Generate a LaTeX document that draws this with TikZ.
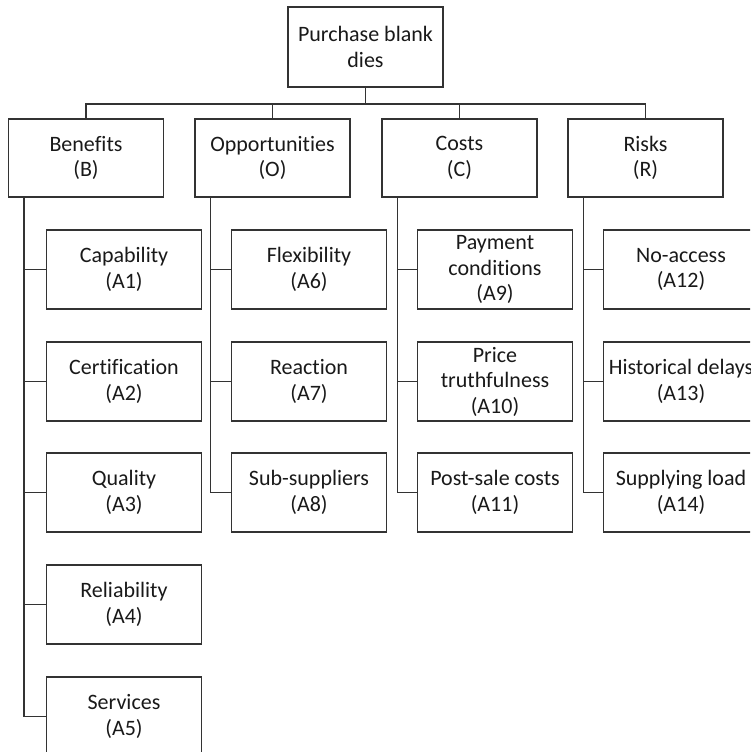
\documentclass[tikz,border=0pt]{standalone}
\usepackage{fontspec}
\setmainfont{Carlito}[Ligatures=NoCommon]
\usetikzlibrary{calc}
\begin{document}
\begin{tikzpicture}[x=1pt,y=-1pt,
  box/.style={draw=black!80, line width=1.5pt, minimum width=155pt, minimum height=79pt,
              align=center, inner sep=2pt, text=black!90,
              font=\fontsize{22}{25.5}\selectfont},
  link/.style={draw=black!80, line width=1.5pt}]
\useasboundingbox (0,0) rectangle (750,752);
\clip (0,0) rectangle (750,752);

% goal
\node[box, minimum height=80pt] (goal) at (365.5,47) {Purchase blank\\dies};

% criteria
\node[box, minimum height=78pt] (B) at (86,158)    {Benefits\\(B)};
\node[box, minimum height=78pt] (O) at (272.5,158) {Opportunities\\(O)};
\node[box, minimum height=78pt] (C) at (459.5,158) {Costs\\(C)};
\node[box, minimum height=78pt] (R) at (645.5,158) {Risks\\(R)};

% sub-criteria
\node[box] (A1) at (124,269.5) {Capability\\(A1)};
\node[box] (A2) at (124,381.5) {Certification\\(A2)};
\node[box] (A3) at (124,492.5) {Quality\\(A3)};
\node[box] (A4) at (124,604.5) {Reliability\\(A4)};
\node[box] (A5) at (124,716.5) {Services\\(A5)};

\node[box] (A6) at (309,269.5) {Flexibility\\(A6)};
\node[box] (A7) at (309,381.5) {Reaction\\(A7)};
\node[box] (A8) at (309,492.5) {Sub-suppliers\\(A8)};

\node[box] (A9)  at (495,269.5) {Payment\\conditions\\(A9)};
\node[box] (A10) at (495,381.5) {Price\\truthfulness\\(A10)};
\node[box] (A11) at (495,492.5) {Post-sale costs\\(A11)};

\node[box] (A12) at (681,269.5) {No-access\\(A12)};
\node[box] (A13) at (681,381.5) {Historical delays\\(A13)};
\node[box] (A14) at (681,492.5) {Supplying load\\(A14)};

% goal to criteria
\coordinate (hub) at ($(goal.south)+(0,16)$);
\draw[link] (goal.south) -- (hub);
\draw[link] (B.north) |- (R.north |- hub);
\foreach \c in {B,O,C,R} \draw[link] (hub) -| (\c.north);

% trunk lines below each criterion
\coordinate (tB) at ($(B.south west)+(16,0)$);
\coordinate (tO) at ($(O.south west)+(16,0)$);
\coordinate (tC) at ($(C.south west)+(16,0)$);
\coordinate (tR) at ($(R.south west)+(16,0)$);

\draw[link] (tB) |- (A5.west);
\draw[link] (tO) |- (A8.west);
\draw[link] (tC) |- (A11.west);
\draw[link] (tR) |- (A14.west);

\foreach \a in {A1,A2,A3,A4} \draw[link] (\a.west) -- (\a.west -| tB);
\foreach \a in {A6,A7} \draw[link] (\a.west) -- (\a.west -| tO);
\foreach \a in {A9,A10} \draw[link] (\a.west) -- (\a.west -| tC);
\foreach \a in {A12,A13} \draw[link] (\a.west) -- (\a.west -| tR);
\end{tikzpicture}
\end{document}
